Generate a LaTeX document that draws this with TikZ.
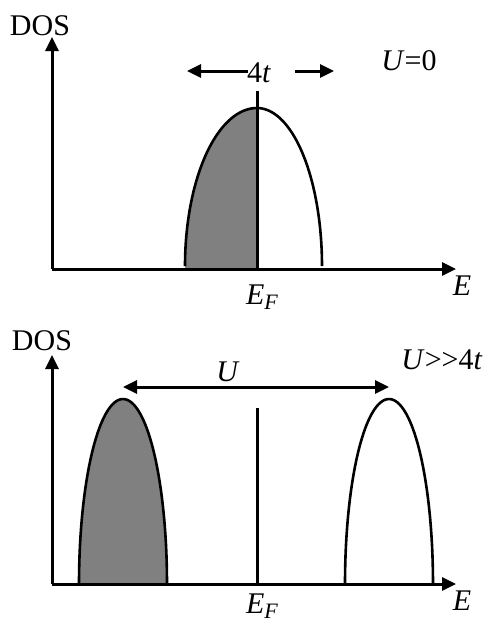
\documentclass[tikz,border=0pt]{standalone}
\usepackage{fontspec}
\setmainfont{Liberation Serif}
\usetikzlibrary{arrows.meta}
\newcommand{\fermi}{\textit{E}\raisebox{-0.35ex}{\fontsize{11}{11}\selectfont\textit{F}}}
\begin{document}
\begin{tikzpicture}[x=0.5pt,y=-0.5pt,line width=1.3pt,every node/.style={font=\fontsize{15}{17}\selectfont,inner sep=1pt},
  axis/.style={line width=1.5pt,-{Triangle[length=7pt,width=6.5pt]}},
  gap/.style={line width=1.5pt,-{Triangle[length=7pt,width=6.5pt]}},
  filled/.style={fill=gray}]
\useasboundingbox (0,0) rectangle (483,623);
% U=0
\coordinate (O1) at (52,269);
\coordinate (Y1) at (52,37);
\coordinate (X1) at (456,269);
\coordinate (F1) at (257,269);
\coordinate (T1) at (257,91);
\coordinate (Wl) at (248,71);
\coordinate (Wlt) at (187,71);
\coordinate (Wr) at (295,71);
\coordinate (Wrt) at (334,71);
\fill[filled] (185,269) -- plot[domain=180:90,samples=40] ({257+72*cos(\x)},{268-160*sin(\x)}) -- (F1) -- cycle;
\draw plot[domain=180:90,samples=40] ({257+72*cos(\x)},{266-158*sin(\x)});
\draw plot[domain=90:0,samples=40] ({257+65*cos(\x)},{266-158*sin(\x)});
\draw[line width=1.5pt] (F1) -- (T1);
\draw[axis] (O1) -- (Y1);
\draw[axis] (O1) -- (X1);
\draw[gap] (Wl) -- (Wlt);
\draw[gap] (Wr) -- (Wrt);
\node at (40,26) {DOS};
\node at (259,73) {4\textit{t}};
\node at (409,61) {\textit{U}=0};
\node at (462,286) {\textit{E}};
\node at (262,297) {\fermi};
% U>>4t
\coordinate (O2) at (52,584);
\coordinate (Y2) at (52,355);
\coordinate (X2) at (456,584);
\coordinate (F2) at (257,584);
\coordinate (T2) at (257,408);
\coordinate (Ul) at (123,387);
\coordinate (Ur) at (389,387);
\fill[filled] (79,584) -- plot[domain=180:0,samples=60] ({123+44*cos(\x)},{584-185*sin(\x)}) -- cycle;
\draw plot[domain=180:0,samples=60] ({123+44*cos(\x)},{584-185*sin(\x)});
\draw plot[domain=180:0,samples=60] ({389+44*cos(\x)},{584-185*sin(\x)});
\draw[line width=1.5pt] (F2) -- (T2);
\draw[axis] (O2) -- (Y2);
\draw[axis] (O2) -- (X2);
\draw[gap,{Triangle[length=7pt,width=6.5pt]}-{Triangle[length=7pt,width=6.5pt]}] (Ul) -- (Ur);
\node at (42,341) {DOS};
\node at (228,372) {\textit{U}};
\node at (442,360) {\textit{U}{>}{>}4\textit{t}};
\node at (462,601) {\textit{E}};
\node at (262,606) {\fermi};
\end{tikzpicture}
\end{document}
